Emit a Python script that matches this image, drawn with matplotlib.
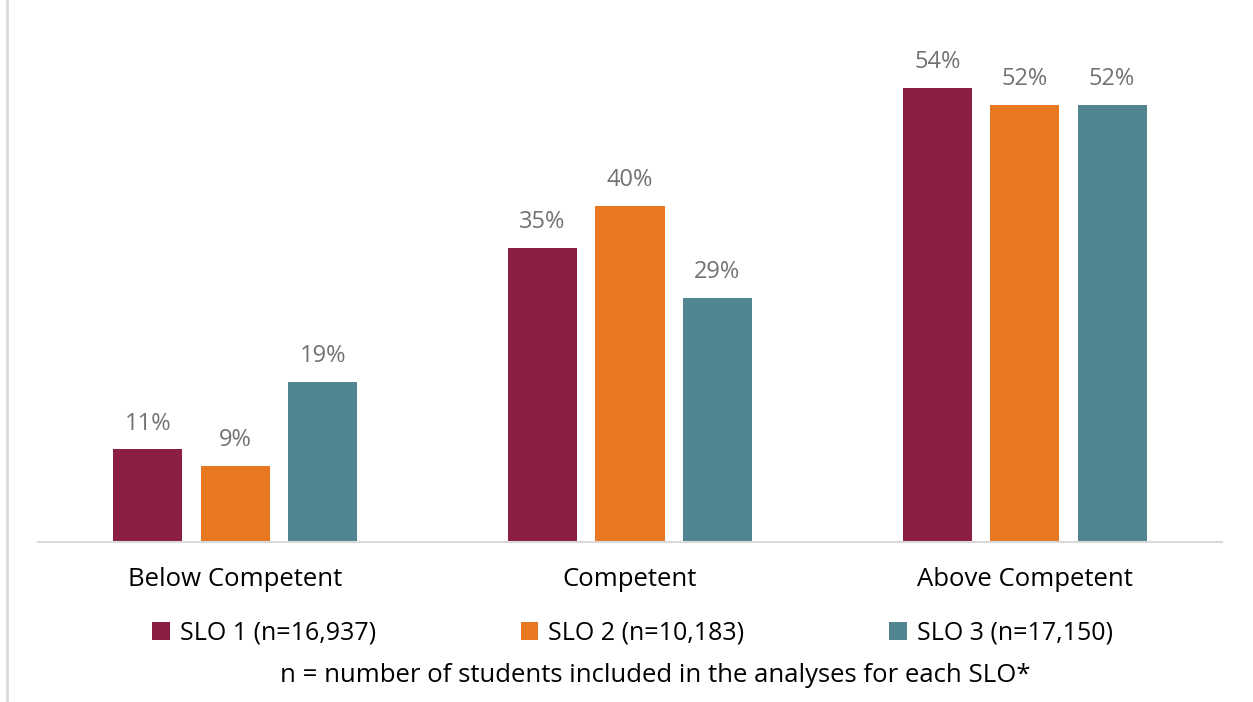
import matplotlib.pyplot as plt
from matplotlib.lines import Line2D
import numpy as np

# data
categories = ["Below Competent", "Competent", "Above Competent"]
series = ["SLO 1 (n=16,937)", "SLO 2 (n=10,183)", "SLO 3 (n=17,150)"]
slo1 = [11, 35, 54]
slo2 = [9, 40, 52]
slo3 = [19, 29, 52]
colors = ["#8B1E41", "#E87722", "#518690"]
note = "n = number of students included in the analyses for each SLO*"

plt.rcParams['font.family'] = ['Open Sans', 'DejaVu Sans']

fig = plt.figure(figsize=(12.53, 7.02), dpi=100)
ax = fig.add_axes([38 / 1253, 1 - 542 / 702, 1184 / 1253, 542 / 702])

x = np.arange(len(categories))
width = 0.175
step = 0.2215
for i, (vals, c) in enumerate(zip([slo1, slo2, slo3], colors)):
    bars = ax.bar(x + (i - 1) * step, vals, width, color=c, label=series[i])
    for b, v in zip(bars, vals):
        ax.annotate(f"{v}%", (b.get_x() + b.get_width() / 2, v),
                    xytext=(0, 10), textcoords="offset points",
                    ha="center", va="bottom", fontsize=17, color="#767171")

ax.set_xlim(-0.5, 2.5)
ax.set_ylim(0, 542 / 8.41)
ax.set_yticks([])
ax.set_xticks(x)
ax.set_xticklabels(categories, fontsize=18.5, color="black")
ax.tick_params(axis="x", length=0, pad=18)
for s in ["top", "left", "right"]:
    ax.spines[s].set_visible(False)
ax.spines["bottom"].set_color("#d9d9d9")
ax.spines["bottom"].set_linewidth(1.5)

# legend row
leg = fig.legend(loc="center", bbox_to_anchor=(0.5 + 6 / 1253, 1 - 633 / 702), ncol=3,
                 frameon=False, fontsize=18, handlelength=0.7, handleheight=0.7,
                 handletextpad=0.4, columnspacing=5.8)

fig.text(655 / 1253, 1 - 676 / 702, note, ha="center", va="center", fontsize=18.5)

# thin border on the left
fig.add_artist(Line2D([7 / 1253, 7 / 1253], [0, 1], color="#d9d9d9", lw=2,
                      transform=fig.transFigure))

fig.savefig("out.png", dpi=100)
